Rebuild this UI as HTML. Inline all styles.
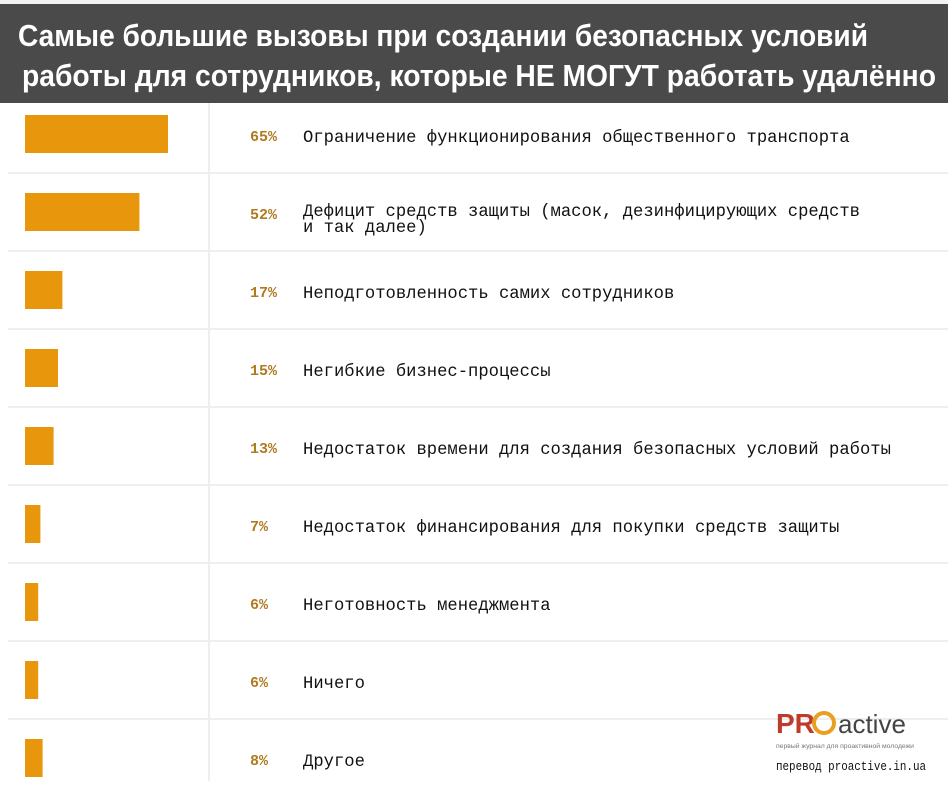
<!DOCTYPE html>
<html><head><meta charset="utf-8"><style>
body{margin:0;width:948px;height:781px;background:#fff;overflow:hidden;font-family:"Liberation Mono",monospace}
</style></head><body>
<svg id="chart" width="948" height="781" xmlns="http://www.w3.org/2000/svg">
<rect x="0" y="0" width="948" height="4" fill="#f2f2f2"/>
<rect x="0" y="4" width="948" height="99" fill="#4a4a4a"/>
<text x="18" y="46" fill="#fff" font-family="Liberation Sans,sans-serif" font-weight="bold" font-size="31" textLength="850" lengthAdjust="spacingAndGlyphs">Самые большие вызовы при создании безопасных условий</text>
<text x="22" y="86" fill="#fff" font-family="Liberation Sans,sans-serif" font-weight="bold" font-size="31" textLength="914" lengthAdjust="spacingAndGlyphs">работы для сотрудников, которые НЕ МОГУТ работать удалённо</text>
<line x1="209" y1="103" x2="209" y2="781" stroke="#eee" stroke-width="2"/>
<g id="rows"></g>
<g>
<text x="776" y="733" font-family="Liberation Sans,sans-serif" font-weight="bold" font-size="28" fill="#c0392b">PR</text>
<circle cx="824" cy="723" r="10" fill="none" stroke="#e8a020" stroke-width="4"/>
<text x="838" y="733" font-family="Liberation Sans,sans-serif" font-size="26" fill="#444">active</text>
<text x="776" y="748" font-family="Liberation Sans,sans-serif" font-size="6" fill="#777" textLength="138" lengthAdjust="spacingAndGlyphs">первый журнал для проактивной молодежи</text>
<text x="776" y="770" font-size="13" fill="#111" textLength="150" lengthAdjust="spacingAndGlyphs">перевод proactive.in.ua</text>
</g>
</svg>
<script>
const labels=["Ограничение функционирования общественного транспорта","Дефицит средств защиты (масок, дезинфицирующих средств|и так далее)","Неподготовленность самих сотрудников","Негибкие бизнес-процессы","Недостаток времени для создания безопасных условий работы","Недостаток финансирования для покупки средств защиты","Неготовность менеджмента","Ничего","Другое"];
const values=[65,52,17,15,13,7,6,6,8];
const valueLabels=["65%","52%","17%","15%","13%","7%","6%","6%","8%"];
const ns="http://www.w3.org/2000/svg";
const g=document.getElementById('rows');
const x=v=>v*2.2;
const rowY=i=>95+i*78;
function mk(t,a){const e=document.createElementNS(ns,t);for(const k in a)e.setAttribute(k,a[k]);return e;}
values.forEach((v,i)=>{
  const cy=rowY(i)+39;
  if(i>0){const l=mk('line',{x1:8,x2:948,y1:rowY(i),y2:rowY(i),stroke:'#eee','stroke-width':2});
  
  g.appendChild(l);}
  const b=mk('rect',{x:25,y:cy-19,width:x(v),height:38,fill:'#e8960c'});
  
  
  g.appendChild(b);
  const p=mk('text',{x:250,y:cy+7,'font-size':15,'font-weight':'bold',fill:'#b07a20'});
  p.textContent=valueLabels[i];
  
  
  g.appendChild(p);
  const parts=labels[i].split('|');
  parts.forEach((s,j)=>{
    const t=mk('text',{x:303,y:cy+8+(parts.length>1?(j*16-4):0),'font-size':17.2,fill:'#111'});
    t.textContent=s;
    
    
    g.appendChild(t);
  });
});
</script>
</body></html>
